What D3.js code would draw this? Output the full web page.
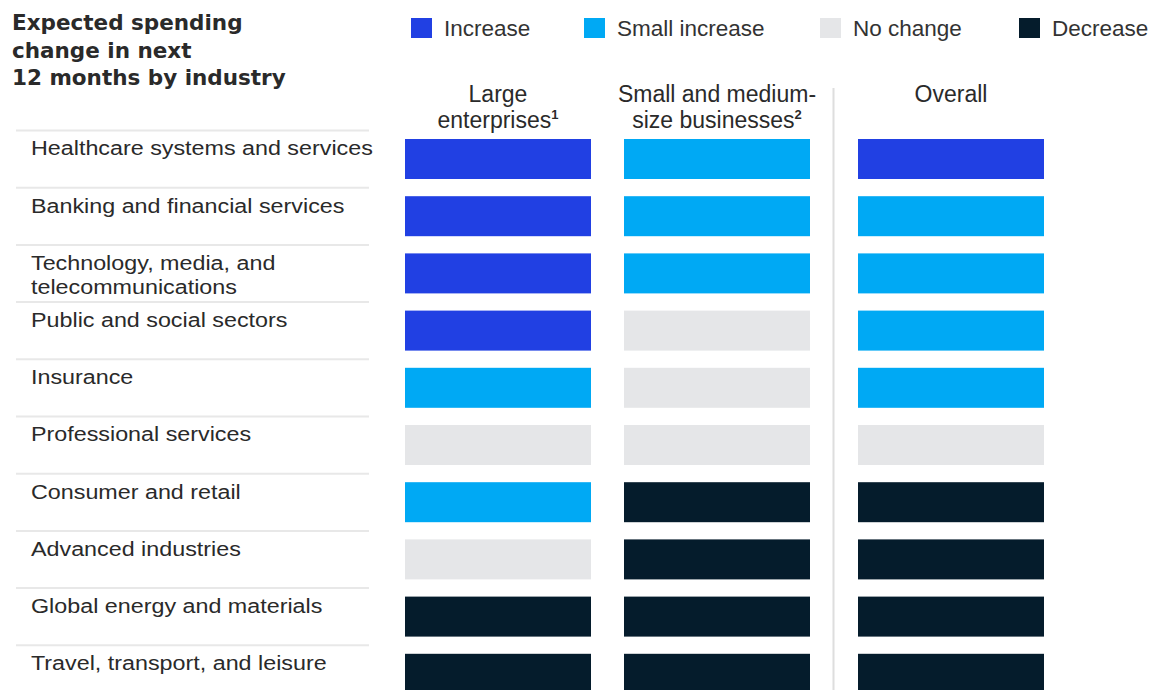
<!DOCTYPE html>
<html>
<head>
<meta charset="utf-8">
<script src="https://cdn.jsdelivr.net/npm/d3@7"></script>
<style>
  html, body { margin: 0; padding: 0; background: #fff; }
  svg { display: block; font-family: "Liberation Sans", Arial, sans-serif; }
</style>
</head>
<body>
<svg id="chart" width="1154" height="690"></svg>
<script>
// Industries, top to bottom
const industries = [
  ["Healthcare systems and services"],
  ["Banking and financial services"],
  ["Technology, media, and", "telecommunications"],
  ["Public and social sectors"],
  ["Insurance"],
  ["Professional services"],
  ["Consumer and retail"],
  ["Advanced industries"],
  ["Global energy and materials"],
  ["Travel, transport, and leisure"]
];

// Column groups
const groups = ["large", "smb", "overall"];
const groupHeaders = [
  [{t: "Large"}, {t: "enterprises", sup: "1"}],
  [{t: "Small and medium-"}, {t: "size businesses", sup: "2"}],
  [{t: "Overall"}]
];

// Legend categories
const levels = ["Increase", "Small increase", "No change", "Decrease"];

// Expected spending change, one entry per industry
const largeEnterprises = ["Increase", "Increase", "Increase", "Increase", "Small increase",
  "No change", "Small increase", "No change", "Decrease", "Decrease"];
const smallMediumBusinesses = ["Small increase", "Small increase", "Small increase", "No change", "No change",
  "No change", "Decrease", "Decrease", "Decrease", "Decrease"];
const overall = ["Increase", "Small increase", "Small increase", "Small increase", "Small increase",
  "No change", "Decrease", "Decrease", "Decrease", "Decrease"];

const series = { large: largeEnterprises, smb: smallMediumBusinesses, overall: overall };

const svg = d3.select("#chart");
const textColor = "#2a2a2a";

const color = d3.scaleOrdinal()
  .domain(levels)
  .range(["#2140e3", "#00a9f4", "#e5e6e8", "#051c2c"]);

const rowKeys = industries.map((d, i) => i);
const y = d3.scaleBand().domain(rowKeys).range([130, 130 + 57.2 * industries.length]);

const colX = d3.scaleOrdinal().domain(groups).range([405, 624, 858]);
const barW = 186, barH = 40, barOffset = 9;

// Title
const title = svg.append("text")
  .attr("x", 12).attr("y", 30)
  .attr("font-family", "'DejaVu Sans', sans-serif")
  .attr("font-size", 21.5).attr("font-weight", "bold").attr("fill", "#2a2a2a");
["Expected spending", "change in next", "12 months by industry"].forEach((l, i) => {
  title.append("tspan").attr("x", 12).attr("dy", i === 0 ? 0 : 27.5).text(l);
});

// Legend
const legendX = d3.scaleOrdinal().domain(levels).range([411, 584, 820, 1019]);
const legend = svg.append("g").selectAll("g").data(levels).join("g")
  .attr("transform", d => `translate(${legendX(d)},18)`);
legend.append("rect").attr("width", 21).attr("height", 20).attr("fill", d => color(d));
legend.append("text")
  .attr("x", 33).attr("y", 18)
  .attr("font-size", 22.5).attr("fill", "#333")
  .text(d => d);

// Column headers
groupHeaders.forEach((lines, gi) => {
  const cx = colX(groups[gi]) + barW / 2;
  lines.forEach((ln, li) => {
    const t = svg.append("text")
      .attr("x", cx).attr("y", 102 + li * 26)
      .attr("text-anchor", "middle")
      .attr("font-size", 23).attr("fill", textColor);
    t.append("tspan").text(ln.t);
    if (ln.sup) {
      t.append("tspan").attr("font-size", 13).attr("font-weight", "bold")
        .attr("dy", -9).text(ln.sup);
    }
  });
});

// Divider before the overall column
svg.append("line")
  .attr("x1", 833.5).attr("x2", 833.5)
  .attr("y1", 88).attr("y2", 690)
  .attr("stroke", "#dedede").attr("stroke-width", 2);

// Row separators and labels
const rows = svg.append("g").selectAll("g").data(rowKeys).join("g")
  .attr("transform", d => `translate(0,${y(d)})`);

rows.append("line")
  .attr("x1", 16).attr("x2", 369)
  .attr("y1", 0.5).attr("y2", 0.5)
  .attr("stroke", "#e8e8e8").attr("stroke-width", 2);

rows.append("text")
  .attr("transform", "translate(31,0) scale(1.11,1)")
  .attr("x", 0).attr("y", 25.5)
  .attr("font-size", 21).attr("fill", textColor)
  .each(function(d) {
    const el = d3.select(this);
    industries[d].forEach((l, i) => {
      el.append("tspan").attr("x", 0).attr("dy", i === 0 ? 0 : 24).text(l);
    });
  });

// Bars
groups.forEach(g => {
  svg.append("g").selectAll("rect").data(series[g]).join("rect")
    .attr("x", colX(g))
    .attr("y", (d, i) => y(i) + barOffset)
    .attr("width", barW)
    .attr("height", barH)
    .attr("fill", d => color(d));
});
</script>
</body>
</html>
